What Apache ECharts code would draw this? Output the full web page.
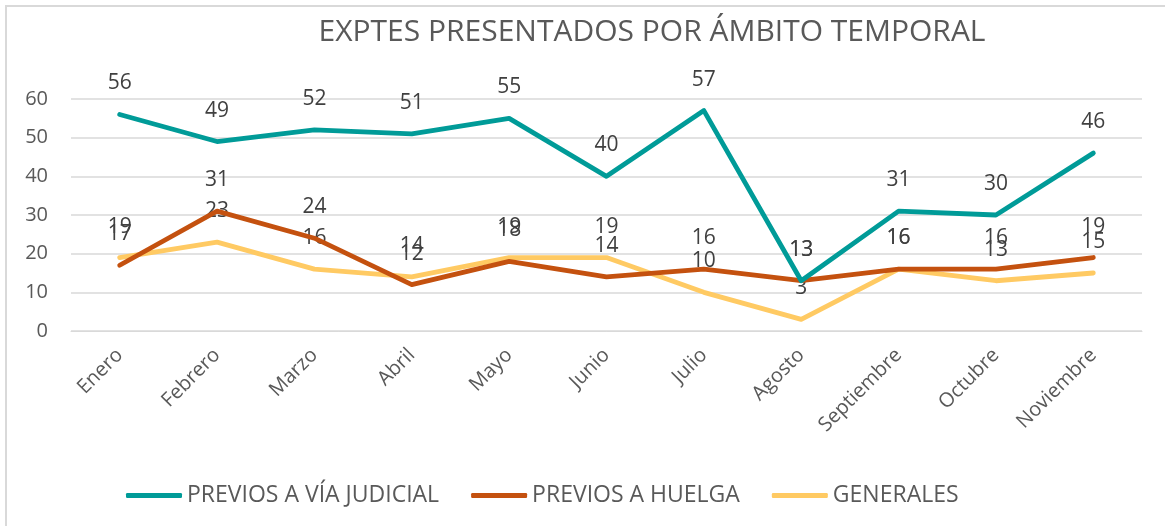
<!DOCTYPE html>
<html>
<head>
<meta charset="utf-8">
<script src="https://cdn.jsdelivr.net/npm/echarts@6/dist/echarts.min.js"></script>
<style>
html,body{margin:0;padding:0;background:#fff;}
#chart{width:1165px;height:526px;}
</style>
</head>
<body>
<div id="chart"></div>
<script>
const title = 'EXPTES PRESENTADOS POR ÁMBITO TEMPORAL';
const categories = ['Enero','Febrero','Marzo','Abril','Mayo','Junio','Julio','Agosto','Septiembre','Octubre','Noviembre'];
const seriesNames = ['PREVIOS A VÍA JUDICIAL','PREVIOS A HUELGA','GENERALES'];
const viaJudicial = [56,49,52,51,55,40,57,13,31,30,46];
const huelga = [17,31,24,12,18,14,16,13,16,16,19];
const generales = [19,23,16,14,19,19,10,3,16,13,15];
const colors = ['#009B98','#C4510F','#FFCA63'];

const FONT = 'Open Sans';
const chart = echarts.init(document.getElementById('chart'));
function mk(name, data, color, z){
  return {
    name: name, type: 'line', data: data, z: z,
    symbol: 'circle', symbolSize: 1, showSymbol: true, smooth: false,
    lineStyle: {color: color, width: 4.8, cap: 'round', join: 'round'},
    itemStyle: {color: color},
    label: {show: true, position: 'top', distance: 20, color: '#404040', fontSize: 21, fontFamily: FONT},
    labelLayout: {hideOverlap: false},
    emphasis: {disabled: true}
  };
}
chart.setOption({
  animation: false,
  backgroundColor: '#fff',
  graphic: [
    {type: 'rect', shape: {x: 6, y: 6, width: 1300, height: 700}, style: {fill: 'none', stroke: '#d9d9d9', lineWidth: 2}, silent: true},
    {type: 'text', x: 652, y: 32, style: {text: title, textAlign: 'center', textVerticalAlign: 'middle', fill: '#595959', fontSize: 30, fontFamily: FONT}}
  ],
  grid: {left: 71, right: 23, top: 99, bottom: 195, containLabel: false},
  legend: {
    data: seriesNames, left: 121, top: 479, icon: 'roundRect', itemWidth: 56, itemHeight: 5, itemGap: 32,
    textStyle: {color: '#595959', fontSize: 23, fontFamily: FONT}
  },
  xAxis: {
    type: 'category', data: categories, boundaryGap: true,
    axisLine: {show: true, lineStyle: {color: '#d9d9d9'}},
    axisTick: {show: false},
    axisLabel: {rotate: 45, margin: 21, color: '#595959', fontSize: 20, fontFamily: FONT, interval: 0}
  },
  yAxis: {
    type: 'value', min: 0, max: 60, interval: 10,
    axisLine: {show: false}, axisTick: {show: false},
    splitLine: {lineStyle: {color: '#d9d9d9', width: 1.5}},
    axisLabel: {margin: 23, color: '#595959', fontSize: 20, fontFamily: FONT}
  },
  series: [mk(seriesNames[0], viaJudicial, colors[0], 3), mk(seriesNames[1], huelga, colors[1], 2), mk(seriesNames[2], generales, colors[2], 1)]
});
</script>
</body>
</html>
